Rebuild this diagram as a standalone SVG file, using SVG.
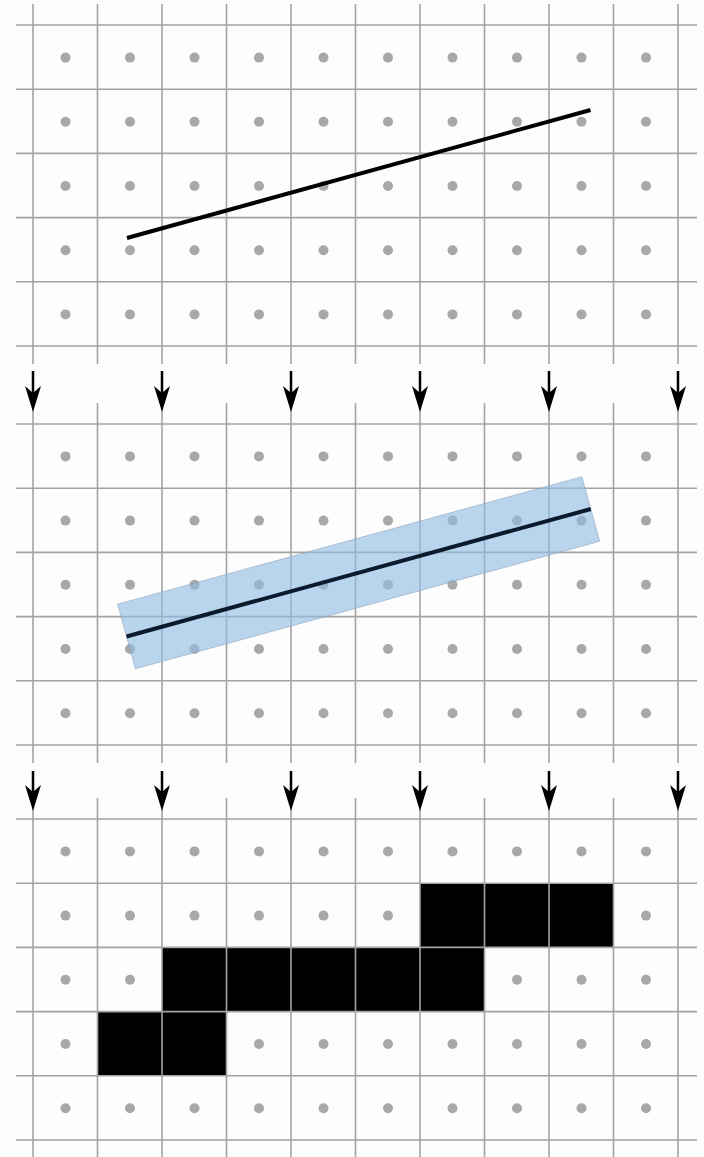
<svg xmlns="http://www.w3.org/2000/svg" xmlns:xlink="http://www.w3.org/1999/xlink" width="704" height="1157" viewBox="0 0 704 1157">
<style>
.grid line{stroke:#a3a3a3;stroke-width:1.6}
.dot{fill:#a8a8a8}
.arrow{stroke:#000;stroke-width:2.5}
.head{fill:#000}
</style>
<defs>
<g id="dotrow">
<circle class="dot" cx="65.5" cy="0" r="5"/><circle class="dot" cx="130" cy="0" r="5"/><circle class="dot" cx="194.5" cy="0" r="5"/><circle class="dot" cx="259" cy="0" r="5"/><circle class="dot" cx="323.5" cy="0" r="5"/><circle class="dot" cx="388" cy="0" r="5"/><circle class="dot" cx="452.5" cy="0" r="5"/><circle class="dot" cx="517" cy="0" r="5"/><circle class="dot" cx="581.5" cy="0" r="5"/><circle class="dot" cx="646" cy="0" r="5"/>
</g>
<g id="vlines" class="grid">
<line x1="33" y1="0" x2="33" y2="360"/><line x1="97.5" y1="0" x2="97.5" y2="360"/><line x1="162" y1="0" x2="162" y2="360"/><line x1="226.5" y1="0" x2="226.5" y2="360"/><line x1="291" y1="0" x2="291" y2="360"/><line x1="355.5" y1="0" x2="355.5" y2="360"/><line x1="420" y1="0" x2="420" y2="360"/><line x1="484.5" y1="0" x2="484.5" y2="360"/><line x1="549" y1="0" x2="549" y2="360"/><line x1="613.5" y1="0" x2="613.5" y2="360"/><line x1="678" y1="0" x2="678" y2="360"/>
</g>
<g id="hlines" class="grid">
<line x1="16" y1="0" x2="697" y2="0"/><line x1="16" y1="64.2" x2="697" y2="64.2"/><line x1="16" y1="128.4" x2="697" y2="128.4"/><line x1="16" y1="192.6" x2="697" y2="192.6"/><line x1="16" y1="256.8" x2="697" y2="256.8"/><line x1="16" y1="321" x2="697" y2="321"/>
</g>
<path id="ahead" class="head" d="M0,0 L-8,-26 L0,-19 L8,-26 Z"/>
</defs>
<rect width="704" height="1157" fill="#fdfdfd"/>

<g id="panel1">
<use xlink:href="#dotrow" y="57.6"/><use xlink:href="#dotrow" y="121.8"/><use xlink:href="#dotrow" y="186"/><use xlink:href="#dotrow" y="250.2"/><use xlink:href="#dotrow" y="314.4"/>
<use xlink:href="#vlines" y="4"/>
<use xlink:href="#hlines" y="25"/>
<line x1="127" y1="238" x2="590.5" y2="110" stroke="#000" stroke-width="4"/>
</g>

<g id="panel2">
<use xlink:href="#dotrow" y="456.4"/><use xlink:href="#dotrow" y="520.6"/><use xlink:href="#dotrow" y="584.8"/><use xlink:href="#dotrow" y="649"/><use xlink:href="#dotrow" y="713.2"/>
<use xlink:href="#vlines" y="403"/>
<use xlink:href="#hlines" y="424"/>
<line x1="126.5" y1="636.5" x2="590.8" y2="509" stroke="#8fbbe3" stroke-opacity="0.62" stroke-width="67"/>
<path d="M117.6,604.2 L581.9,476.7 L599.7,541.3 L135.4,668.8 Z" fill="none" stroke="#8aa0b8" stroke-width="0.8" stroke-opacity="0.7"/>
<line x1="126.5" y1="636.5" x2="590.8" y2="509" stroke="#0b1a2c" stroke-width="4"/>
</g>

<g id="panel3">
<use xlink:href="#dotrow" y="851.4"/><use xlink:href="#dotrow" y="915.6"/><use xlink:href="#dotrow" y="979.8"/><use xlink:href="#dotrow" y="1044"/><use xlink:href="#dotrow" y="1108.2"/>
<rect x="420" y="883.2" width="193.5" height="64.2" fill="#000"/>
<rect x="162" y="947.4" width="322.5" height="64.2" fill="#000"/>
<rect x="97.5" y="1011.6" width="129" height="64.2" fill="#000"/>
<use xlink:href="#vlines" y="798"/>
<use xlink:href="#hlines" y="819"/>
</g>

<g id="connectors">
<line class="arrow" x1="33" y1="371" x2="33" y2="396"/><use xlink:href="#ahead" x="33" y="412"/>
<line class="arrow" x1="162" y1="371" x2="162" y2="396"/><use xlink:href="#ahead" x="162" y="412"/>
<line class="arrow" x1="291" y1="371" x2="291" y2="396"/><use xlink:href="#ahead" x="291" y="412"/>
<line class="arrow" x1="420" y1="371" x2="420" y2="396"/><use xlink:href="#ahead" x="420" y="412"/>
<line class="arrow" x1="549" y1="371" x2="549" y2="396"/><use xlink:href="#ahead" x="549" y="412"/>
<line class="arrow" x1="678" y1="371" x2="678" y2="396"/><use xlink:href="#ahead" x="678" y="412"/>
<line class="arrow" x1="33" y1="771" x2="33" y2="795"/><use xlink:href="#ahead" x="33" y="811"/>
<line class="arrow" x1="162" y1="771" x2="162" y2="795"/><use xlink:href="#ahead" x="162" y="811"/>
<line class="arrow" x1="291" y1="771" x2="291" y2="795"/><use xlink:href="#ahead" x="291" y="811"/>
<line class="arrow" x1="420" y1="771" x2="420" y2="795"/><use xlink:href="#ahead" x="420" y="811"/>
<line class="arrow" x1="549" y1="771" x2="549" y2="795"/><use xlink:href="#ahead" x="549" y="811"/>
<line class="arrow" x1="678" y1="771" x2="678" y2="795"/><use xlink:href="#ahead" x="678" y="811"/>
</g>
</svg>
